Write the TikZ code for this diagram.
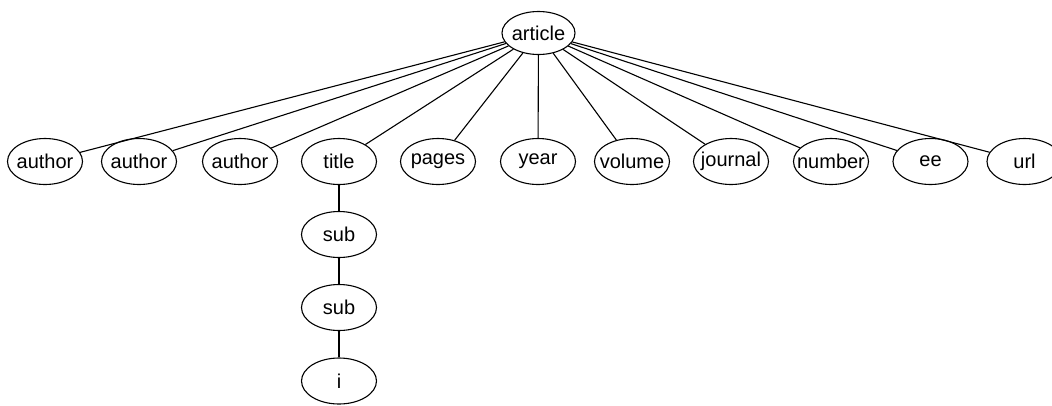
\documentclass[tikz,border=0pt]{standalone}
\usepackage{fontspec}
\setmainfont{Liberation Sans}
\usetikzlibrary{shapes.geometric}
\newcommand{\zw}[1]{\makebox[0pt]{#1}}
\begin{document}
\begin{tikzpicture}[x=1pt,y=-1pt,
  elem/.style={draw,ellipse,line width=1.1pt,minimum width=75pt,minimum height=46pt,inner sep=0pt,font=\fontsize{20}{24}\selectfont},
  edge/.style={line width=1.1pt}]
\useasboundingbox (0,0) rectangle (1052,405);
\node[elem,minimum width=73pt,minimum height=43pt] (article) at (538.5,33) {\zw{article}};
\node[elem] (a1) at (45,161.5) {\zw{author}};
\node[elem] (a2) at (139,161.5) {\zw{author}};
\node[elem] (a3) at (240,161.5) {\zw{author}};
\node[elem] (title) at (339,161.5) {\zw{title}};
\node[elem] (pages) at (438,161.5) {\zw{pages}};
\node[elem] (year) at (538,161.5) {\zw{year}};
\node[elem] (volume) at (632,161.5) {\zw{volume}};
\node[elem] (journal) at (731,161.5) {\zw{journal}};
\node[elem] (number) at (831,161.5) {\zw{number}};
\node[elem] (ee) at (930.5,161.5) {\zw{ee}};
\node[elem] (url) at (1024.5,161.5) {\zw{url}};
\node[elem] (sub1) at (339,234.5) {\zw{sub}};
\node[elem] (sub2) at (339,307.5) {\zw{sub}};
\node[elem] (i) at (339,381) {\zw{i}};
\foreach \n in {a1,a2,a3,title,pages,year,volume,journal,number,ee,url}
  \draw[edge] (article) -- (\n);
\draw[edge] (title) -- (sub1);
\draw[edge] (sub1) -- (sub2);
\draw[edge] (sub2) -- (i);
\end{tikzpicture}
\end{document}
